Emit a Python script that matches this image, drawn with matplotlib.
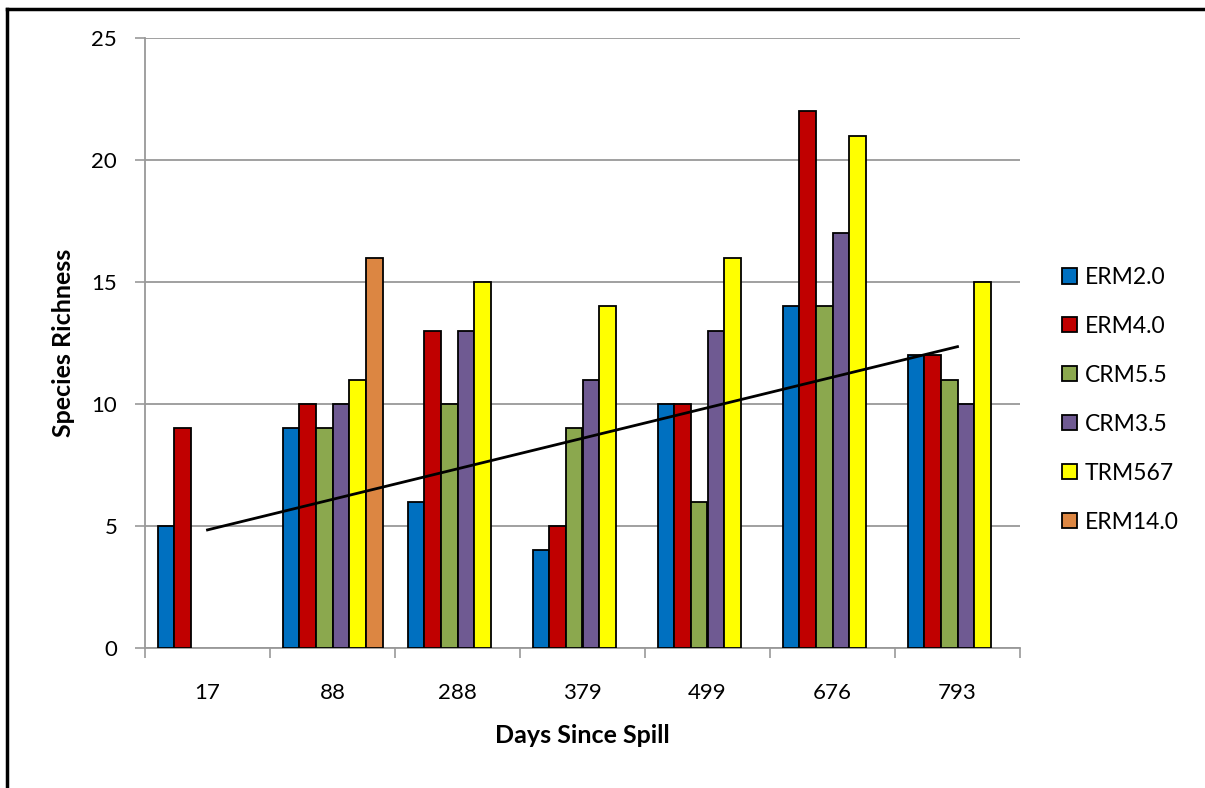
import numpy as np
import matplotlib.pyplot as plt
from matplotlib.lines import Line2D

days = ["17", "88", "288", "379", "499", "676", "793"]
series_names = ["ERM2.0", "ERM4.0", "CRM5.5", "CRM3.5", "TRM567", "ERM14.0"]
colors = ["#0070C0", "#C00000", "#8BA84E", "#6F5A92", "#FFFF00", "#DC8642"]

erm20 = [5, 9, 6, 4, 10, 14, 12]
erm40 = [9, 10, 13, 5, 10, 22, 12]
crm55 = [np.nan, 9, 10, 9, 6, 14, 11]
crm35 = [np.nan, 10, 13, 11, 13, 17, 10]
trm567 = [np.nan, 11, 15, 14, 16, 21, 15]
erm140 = [np.nan, 16, np.nan, np.nan, np.nan, np.nan, np.nan]

trend_x = [0, 6]
trend_y = [4.84, 12.35]

plt.rcParams["font.family"] = ["Lato", "DejaVu Sans"]

fig = plt.figure(figsize=(12.05, 7.88), dpi=100)
ax = fig.add_axes([145 / 1205, 1 - 648 / 788, 875 / 1205, 610 / 788])

values = [erm20, erm40, crm55, crm35, trm567, erm140]
x = np.arange(len(days))
w = 1 / 7.5
for i, (name, vals, c) in enumerate(zip(series_names, values, colors)):
    ax.bar(x + (i - 2.5) * w, vals, w, color=c, edgecolor="black",
           linewidth=1.3, label=name, zorder=3)

ax.plot(trend_x, trend_y, color="black", linewidth=2, zorder=4)

ax.set_xlim(-0.5, len(days) - 0.5)
ax.set_ylim(0, 25)
ax.set_yticks(range(0, 26, 5))
ax.set_xticks(x)
ax.set_xticklabels(days)
ax.set_xticks(np.arange(-0.5, len(days)), minor=True)
ax.tick_params(axis="x", which="major", length=0, pad=25, labelsize=16)
ax.tick_params(axis="x", which="minor", length=7, color="#999999", width=1.2)
ax.tick_params(axis="y", length=7, color="#999999", width=1.2, pad=13, labelsize=16)
ax.yaxis.grid(True, color="#999999", linewidth=1.3, zorder=0)
for s in ["top", "right"]:
    ax.spines[s].set_visible(False)
for s in ["left", "bottom"]:
    ax.spines[s].set_color("#999999")
    ax.spines[s].set_linewidth(1.3)

ax.set_xlabel("Days Since Spill", fontsize=18, fontweight="bold", labelpad=15)
ax.set_ylabel("Species Richness", fontsize=18, fontweight="bold", labelpad=12)

ax.legend(loc="center left", bbox_to_anchor=(1.037, 0.407), frameon=False,
          borderaxespad=0, fontsize=16.5, handlelength=0.66, handleheight=0.66,
          handletextpad=0.36, labelspacing=1.22)

fig.add_artist(Line2D([7 / 1205, 7 / 1205], [0, 1 - 9 / 788], color="black",
                      linewidth=2.5, transform=fig.transFigure))
fig.add_artist(Line2D([7 / 1205, 1], [1 - 9 / 788, 1 - 9 / 788], color="black",
                      linewidth=2.5, transform=fig.transFigure))

fig.savefig("out.png", dpi=100)
